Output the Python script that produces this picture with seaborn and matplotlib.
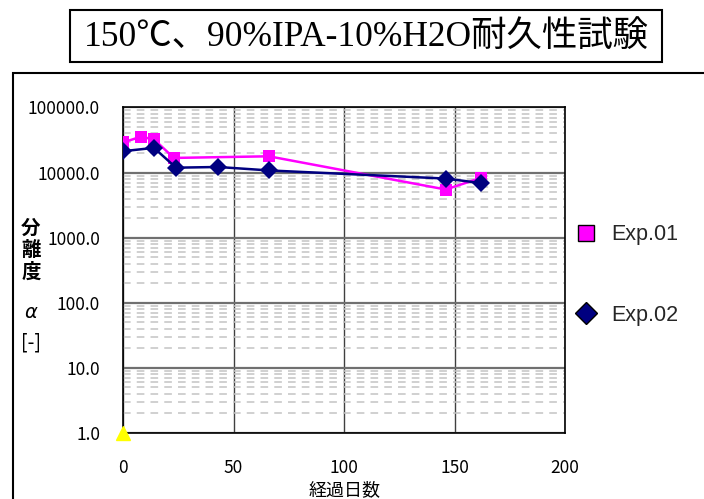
import matplotlib
matplotlib.use("Agg")
import matplotlib.pyplot as plt
import seaborn as sns
import pandas as pd
import numpy as np
from matplotlib.patches import Rectangle
from matplotlib.lines import Line2D
from matplotlib.ticker import FixedLocator, LogLocator, NullFormatter

# ---- data ----
exp01_days = [0, 8, 14, 23, 66, 146, 162]
exp01_alpha = [29000, 35500, 32500, 16800, 17800, 5500, 8300]
exp02_days = [0, 14, 24, 43, 66, 146, 162]
exp02_alpha = [21300, 24000, 11900, 12200, 10800, 8100, 6900]
ref_days = [0]
ref_alpha = [1.0]
series_names = ["Exp.01", "Exp.02"]
x_ticks = [0, 50, 100, 150, 200]
y_ticks = [1, 10, 100, 1000, 10000, 100000]
title_text = "150℃、90%IPA-10%H2O耐久性試験"
xlabel_text = "経過日数"

sns.set_theme(style="white")
plt.rcParams["font.family"] = ["Noto Sans CJK JP", "DejaVu Sans"]

W, H = 704, 499
fig = plt.figure(figsize=(W / 100, H / 100), dpi=100)

def fx(px):
    return px / W

def fy(py):
    return 1 - py / H

# outer frame
fig.patches.append(Rectangle((fx(13), fy(520)), fx(720) - fx(13), fy(73) - fy(520),
                             transform=fig.transFigure, fill=False, edgecolor="black",
                             linewidth=1.5, zorder=0))
# title box
fig.patches.append(Rectangle((fx(70), fy(62)), fx(662) - fx(70), fy(10) - fy(62),
                             transform=fig.transFigure, facecolor="white", edgecolor="black",
                             linewidth=1.5, zorder=0))
fig.text(fx(366), fy(37), title_text, ha="center", va="center", fontsize=25.5,
         family=["Liberation Serif", "Noto Sans CJK JP"], color="black")

left, right, top, bottom = 123, 565, 107.5, 433
ax = fig.add_axes([fx(left), fy(bottom), fx(right) - fx(left), fy(top) - fy(bottom)])

df = pd.DataFrame({
    "day": exp01_days + exp02_days,
    "alpha": exp01_alpha + exp02_alpha,
    "series": [series_names[0]] * len(exp01_days) + [series_names[1]] * len(exp02_days),
})
palette = {"Exp.01": "#FF00FF", "Exp.02": "#000080"}
sns.lineplot(data=df, x="day", y="alpha", hue="series", style="series",
             palette=palette, markers={"Exp.01": "s", "Exp.02": "D"},
             dashes=False, linewidth=1.8, markersize=9, markeredgewidth=0,
             ax=ax, legend=False, zorder=3)
ax.plot(ref_days, ref_alpha, linestyle="none", marker="^", color="#FFFF00",
        markersize=10, clip_on=False, zorder=4)

ax.set_yscale("log")
ax.set_xlim(0, 200)
ax.set_ylim(1, 100000)
ax.xaxis.set_major_locator(FixedLocator(x_ticks))
ax.yaxis.set_major_locator(FixedLocator(y_ticks))
ax.yaxis.set_minor_locator(LogLocator(base=10, subs=np.arange(2, 10)))
ax.yaxis.set_minor_formatter(NullFormatter())
ax.set_yticklabels([f"{v:.1f}" for v in y_ticks])
ax.set_xticklabels([str(v) for v in x_ticks])
ax.tick_params(axis="both", which="both", length=0, labelsize=12.5, colors="black")
ax.tick_params(axis="y", pad=16.5)
ax.tick_params(axis="x", pad=19)

ax.grid(False)
ax.grid(True, axis="y", which="major", color="#707070", linewidth=1.6, linestyle="-", zorder=1)
ax.grid(True, axis="y", which="minor", color="#c4c4c4", linewidth=1.1,
        linestyle=(0, (5, 4)), zorder=1)
ax.grid(True, axis="x", which="major", color="#404040", linewidth=1.0, zorder=1)
for s in ax.spines.values():
    s.set_visible(True)
    s.set_color("black")
    s.set_linewidth(1.2)

ax.set_xlabel("")
ax.set_ylabel("")
fig.text(fx(345), fy(490), xlabel_text, ha="center", va="center", fontsize=13, color="black")

# vertical y label
for ch, yy, kw in [("分", 228, dict(fontweight="bold")), ("離", 250, dict(fontweight="bold")),
                   ("度", 272, dict(fontweight="bold")),
                   ("α", 312, dict(style="italic", family="DejaVu Sans")),
                   ("[-]", 343, {})]:
    fig.text(fx(31), fy(yy), ch, ha="center", va="center", fontsize=14, color="black", **kw)

# legend
handles = [Line2D([], [], linestyle="none", marker="s", markersize=11,
                  markerfacecolor="#FF00FF", markeredgecolor="black", markeredgewidth=1.0),
           Line2D([], [], linestyle="none", marker="D", markersize=11,
                  markerfacecolor="#000080", markeredgecolor="black", markeredgewidth=1.0)]
fig.legend(handles, series_names, loc="upper left",
           bbox_to_anchor=(fx(545), fy(205)), frameon=False, labelspacing=2.75,
           handletextpad=0.2, prop={"family": "Liberation Sans", "size": 15.5})

fig.savefig("out.png", dpi=100)
